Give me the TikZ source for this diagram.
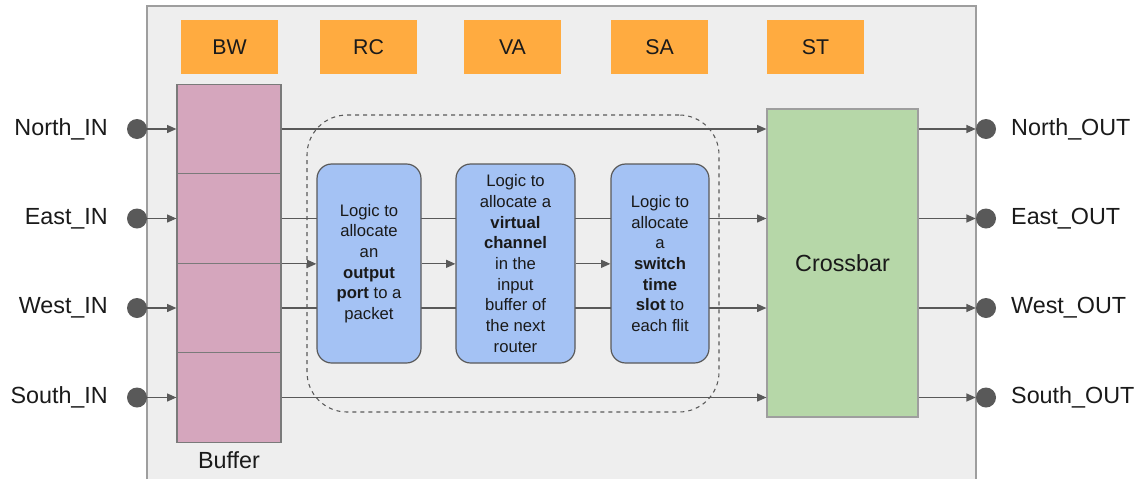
\documentclass[tikz,border=0pt]{standalone}
\usepackage{fontspec}
\setmainfont{Liberation Sans}
\usetikzlibrary{arrows.meta,positioning}
\definecolor{routergray}{HTML}{EEEEEE}
\definecolor{framegray}{HTML}{9E9E9E}
\definecolor{wiregray}{HTML}{595959}
\definecolor{bufpink}{HTML}{D5A6BD}
\definecolor{logicblue}{HTML}{A4C2F4}
\definecolor{xbargreen}{HTML}{B6D7A8}
\definecolor{stageorange}{HTML}{FFAB40}
\definecolor{textblack}{HTML}{1A1A1A}

\begin{document}
\begin{tikzpicture}[x=0.75pt,y=-0.75pt,
  stage/.style={rectangle,fill=stageorange,minimum width=72.75pt,minimum height=40.5pt,
               font=\fontsize{16}{19}\selectfont,text=textblack},
  bufcell/.style={rectangle,draw=wiregray!80,line width=0.9pt,fill=bufpink,
               minimum width=78pt,minimum height=67.125pt},
  logic/.style={rectangle,rounded corners=11pt,draw=wiregray,line width=0.9pt,fill=logicblue,
               minimum height=149.25pt,align=center,inner sep=0pt,text=textblack,
               font=\fontsize{12.5}{15.5}\selectfont},
  port/.style={circle,fill=wiregray,minimum size=15pt,inner sep=0pt},
  portlabel/.style={inner sep=0pt,font=\fontsize{17.5}{21}\selectfont,text=textblack},
  arrow/.style={-{Triangle[length=7pt,width=6pt]},line width=0.9pt,wiregray}]
\useasboundingbox (0,0) rectangle (1146,479);
\fill[routergray] (147,6) rectangle (976,479);
\draw[framegray,line width=0.9pt] (147,479) -- (147,6) -- (976,6) -- (976,479);

\node[stage] (bw) at (229.5,47) {BW};
\node[stage] (rcs) at (368.5,47) {RC};
\node[stage] (vas) at (512.5,47) {VA};
\node[stage] (sas) at (659.5,47) {SA};
\node[stage] (sts) at (815.5,47) {ST};

\node[draw=wiregray,dashed,line width=0.8pt,rounded corners=30pt,
      minimum width=309pt,minimum height=222.75pt] (allocbox) at (513,263.5) {};

\node[rectangle,draw=framegray,line width=0.9pt,fill=xbargreen,minimum width=113.25pt,
      minimum height=231pt,font=\fontsize{17.5}{21}\selectfont,text=textblack] (xbar) at (842.5,263) {Crossbar};

\foreach \i/\d/\y in {1/North/129,2/East/218.5,3/West/308,4/South/397.5}{
  \node[bufcell] (buf\i) at (229,\y) {};
  \node[port] (in\i) at (137,\y) {};
  \node[portlabel,left=14pt of in\i] (inl\i) {\d\_IN};
  \node[port] (out\i) at (986,\y) {};
  \node[portlabel,right=11pt of out\i] (outl\i) {\d\_OUT};
  \draw[arrow] (in\i) -- (buf\i.west);
  \draw[arrow] (buf\i.east) -- (xbar.west |- buf\i.east);
  \draw[arrow] (xbar.east |- out\i) -- (out\i);
}
\node[portlabel,below=6pt of buf4] (buflabel) {Buffer};

\node[logic,minimum width=78pt] (rc) at (369,263.5)
  {Logic to\\allocate\\an\\\textbf{output}\\\textbf{port} to a\\packet};
\node[logic,minimum width=89.25pt] (va) at (515.5,263.5)
  {Logic to\\allocate a\\\textbf{virtual}\\\textbf{channel}\\in the\\input\\buffer of\\the next\\router};
\node[logic,minimum width=73.5pt] (sa) at (660,263.5)
  {Logic to\\allocate\\a\\\textbf{switch}\\\textbf{time}\\\textbf{slot} to\\each flit};

\draw[arrow] (buf2.south east) -- (buf2.south east -| rc.west);
\draw[arrow] (buf2.south east -| rc.east) -- (buf2.south east -| va.west);
\draw[arrow] (buf2.south east -| va.east) -- (buf2.south east -| sa.west);
\end{tikzpicture}
\end{document}
